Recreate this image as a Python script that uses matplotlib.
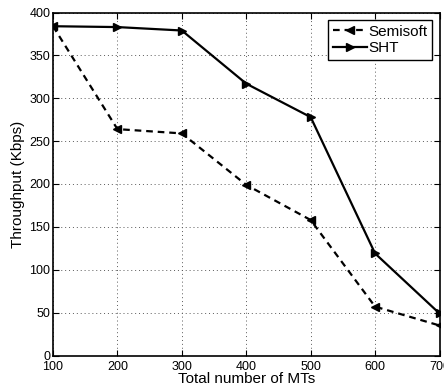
import matplotlib
matplotlib.use("Agg")
import matplotlib.pyplot as plt

plt.rcParams['font.family'] = ['Liberation Sans', 'DejaVu Sans']

mts = [100, 200, 300, 400, 500, 600, 700]
semisoft = [384, 264, 259, 199, 158, 57, 35]
sht = [384, 383, 379, 317, 278, 119, 49]

fig = plt.figure(figsize=(4.44, 3.92), dpi=100)
ax = fig.add_axes([53/444, 1 - 355.5/392, (439.5-53)/444, (355.5-12.5)/392])

ax.plot(mts, semisoft, 'k--<', lw=1.6, ms=5.5, dashes=(3, 2.2), label='Semisoft')
ax.plot(mts, sht, 'k->', lw=1.6, ms=5.5, label='SHT')

ax.set_xlim(100, 700)
ax.set_ylim(0, 400)
ax.set_xticks(mts)
ax.set_yticks(range(0, 401, 50))
ax.grid(True, color='0.35', linestyle=(0, (1, 3)), lw=0.7)
ax.tick_params(direction='in', top=True, right=True, labelsize=9, length=4, width=0.8)
ax.tick_params(axis='y', pad=2)
ax.tick_params(axis='x', pad=4)
for s in ax.spines.values():
    s.set_linewidth(1.2)

ax.set_xlabel('Total number of MTs', fontsize=11, labelpad=-1)
ax.set_ylabel('Throughput (Kbps)', fontsize=11, labelpad=3)

leg = ax.legend(loc='upper right', fontsize=11, fancybox=False, edgecolor='k',
                framealpha=1, handlelength=2.2, handletextpad=0.1,
                borderpad=0.3, labelspacing=0.15, borderaxespad=0.5)
leg.get_frame().set_linewidth(1.0)

fig.savefig('out.png', dpi=100)
